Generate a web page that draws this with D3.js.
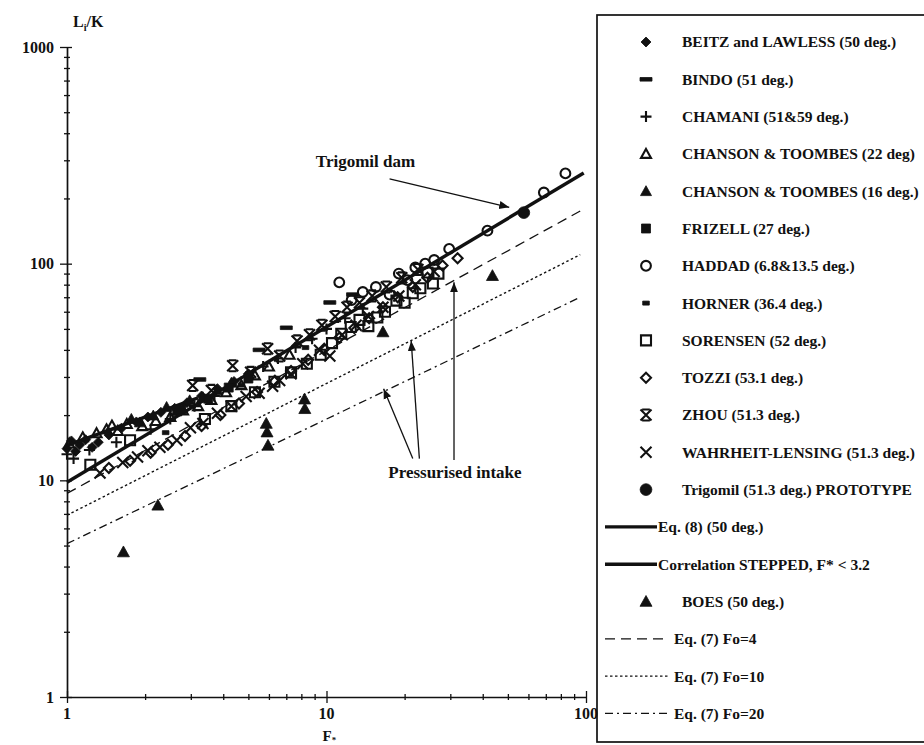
<!DOCTYPE html>
<html>
<head>
<meta charset="utf-8">
<script src="https://cdn.jsdelivr.net/npm/d3@7"></script>
<style>
body { margin: 0; background: #fff; }
text { font-family: "Liberation Serif", "DejaVu Serif", serif; fill: #111; }
</style>
</head>
<body>
<svg id="chart" width="924" height="745"></svg>
<script>
// ---- data: [F*, Li/k] ----
const beitz = [[1.0,14.0],[1.04,15.2],[1.08,13.6],[1.12,14.6],[1.18,15.4],[1.25,14.2],[1.32,15.0],[1.45,16.2],[1.62,17.4],[1.85,18.6],[2.05,19.6],[2.3,20.6],[2.6,21.5],[2.9,22.8],[3.3,24.5],[3.8,26.5],[4.4,28.6],[5.0,31.0]];
const bindo = [[3.25,29.2],[5.5,40.0],[7.0,50.6],[10.3,66.2],[12.6,72.0]];
const chamani = [[1.0,13.2],[1.06,12.6],[1.22,13.8],[1.55,15.0],[2.1,17.2],[2.5,19.2],[3.1,22.0],[3.7,24.5],[4.3,27.5],[4.9,30.0],[5.7,33.5],[6.5,36.5],[7.6,41.0],[8.8,45.0],[10.0,50.0],[11.8,56.0],[13.8,62.0]];
const chanson22 = [[1.02,14.8],[1.15,15.8],[1.3,16.5],[1.42,17.2],[1.49,17.9],[1.57,16.9],[1.7,18.2],[1.95,17.8],[2.2,18.8],[2.5,19.6],[2.8,21.0],[3.2,22.0],[3.6,23.5],[4.1,25.5],[4.7,27.5],[5.3,30.5],[6.0,33.5],[7.2,38.0]];
const chanson16 = [[1.77,19.2],[1.91,18.5],[2.15,19.9],[2.42,21.8],[2.64,20.8],[2.97,23.4],[3.34,24.2],[3.8,26.0],[4.3,28.2]];
const frizell = [[2.75,21.2],[3.5,23.8],[4.2,26.8],[5.0,29.5]];
const haddad = [[11.2,82.0],[12.5,68.0],[13.8,74.0],[15.5,78.0],[17.5,72.0],[19.0,90.0],[20.5,84.0],[22.0,96.0],[24.0,100.0],[26.0,104.0],[29.7,117.0],[41.7,142.0],[68.8,213.0],[83.3,261.0]];
const horner = [[2.4,16.6],[4.7,27.5],[8.3,41.0]];
const sorensen = [[1.23,11.8],[1.75,15.3],[3.4,19.2],[4.3,22.0],[5.3,25.5],[6.3,28.5],[7.3,31.5],[8.4,34.5],[9.5,38.0],[10.5,43.0],[11.4,47.5],[12.4,51.0],[13.4,55.0],[14.5,51.5],[15.7,56.4],[16.8,60.0],[18.6,67.5],[20.0,66.0],[21.5,73.0],[23.0,77.0],[24.5,91.0],[25.7,81.0],[27.0,90.0]];
const tozzi = [[1.45,11.4],[1.75,12.3],[2.1,13.4],[2.45,14.6],[2.85,16.0],[3.3,17.8],[3.9,20.0],[4.6,22.6],[5.4,25.6],[6.3,28.6],[7.3,32.0],[8.5,36.0],[9.8,40.5],[11.2,45.5],[12.8,50.5],[14.6,56.0],[16.5,63.0],[18.8,70.0],[21.5,78.0],[24.5,86.0],[28.0,98.0],[32.0,106.0]];
const zhou = [[3.05,27.4],[3.6,26.0],[4.35,33.8],[5.1,31.5],[5.93,40.5],[6.6,37.5],[7.7,44.0],[8.6,47.0],[9.6,52.0],[10.8,57.0],[12.0,63.0],[13.4,66.0],[15.0,71.0],[17.0,78.0],[19.5,86.0],[22.5,94.0]];
const wahrheit = [[1.34,10.8],[1.64,12.1],[1.87,12.8],[2.05,13.7],[2.28,14.2],[2.65,15.3],[2.99,17.5],[3.34,18.3],[3.8,20.4],[4.3,22.0],[4.9,24.4],[5.5,25.2],[6.2,27.2],[6.6,28.9],[7.3,31.0],[8.1,34.5],[9.4,39.8],[10.3,37.5],[11.5,47.0],[13.0,52.0],[14.5,57.0],[16.5,63.0],[19.0,71.0],[22.0,80.0],[26.0,92.0]];
const trigomil = [[57.6,172.0]];
const boes = [[1.65,4.67],[2.24,7.67],[5.86,18.3],[5.9,16.7],[5.95,14.5],[8.23,23.7],[8.25,21.4],[16.5,48.4],[43.6,88.0]];

// straight lines on log-log, end points
const eq8Line = [[1,9.8],[98,262]];
const correlationLine = [[1,14.5],[3.2,24.0]];
const fo4Line = [[1,8.7],[95,175]];
const fo10Line = [[1,6.9],[95,110]];
const fo20Line = [[1,5.1],[95,70]];

const xTickLabels = [1, 10, 100];
const yTickLabels = [1, 10, 100, 1000];

// annotations
const trigomilText = [9.1, 279];
const trigomilArrow = [[17.5,246],[50.6,182]];
const intakeText = [17.3, 10.2];
const intakeArrows = [
  [[21.5,12.6],[16.6,26.5]],
  [[22.8,12.6],[21.2,44.0]],
  [[31.0,12.4],[31.0,82.0]]
];

// ---- drawing ----
const svg = d3.select('#chart');
const x = d3.scaleLog().domain([1,100]).range([67,586]);
const y = d3.scaleLog().domain([1,1000]).range([697,47]);

function markerPath(type, s){
	const h = s/2;
	switch(type){
		case 'diamond': return `M0,${-h}L${h},0L0,${h}L${-h},0Z`;
		case 'dash': return `M${-h},-1.8H${h}V1.8H${-h}Z`;
		case 'smalldash': return `M${-h*0.6},-2H${h*0.6}V2H${-h*0.6}Z`;
		case 'plus': return `M${-h},0H${h}M0,${-h}V${h}`;
		case 'triangle': return `M0,${-h}L${h},${h*0.8}L${-h},${h*0.8}Z`;
		case 'square': return `M${-h},${-h}H${h}V${h}H${-h}Z`;
		case 'circle': return d3.symbol(d3.symbolCircle, s*s*0.75)();
		case 'x': return `M${-h},${-h}L${h},${h}M${h},${-h}L${-h},${h}`;
		case 'zhou': return `M${-h},${-h}L${h},${h}M${h},${-h}L${-h},${h}M${-h*0.7},${-h}H${h*0.7}M${-h*0.7},${h}H${h*0.7}`;
	}
}

const series = [
	{ label: 'BEITZ and LAWLESS (50 deg.)', data: beitz, type: 'diamond', filled: true, size: 10 },
	{ label: 'BINDO (51 deg.)', data: bindo, type: 'dash', filled: true, size: 12 },
	{ label: 'CHAMANI (51&59 deg.)', data: chamani, type: 'plus', filled: false, size: 11 },
	{ label: 'CHANSON & TOOMBES (22 deg)', data: chanson22, type: 'triangle', filled: false, size: 10 },
	{ label: 'CHANSON & TOOMBES (16 deg.)', data: chanson16, type: 'triangle', filled: true, size: 11 },
	{ label: 'FRIZELL (27 deg.)', data: frizell, type: 'square', filled: true, size: 9 },
	{ label: 'HADDAD (6.8&13.5 deg.)', data: haddad, type: 'circle', filled: false, size: 10 },
	{ label: 'HORNER (36.4 deg.)', data: horner, type: 'smalldash', filled: true, size: 11 },
	{ label: 'SORENSEN (52 deg.)', data: sorensen, type: 'square', filled: false, size: 10 },
	{ label: 'TOZZI (53.1 deg.)', data: tozzi, type: 'diamond', filled: false, size: 10 },
	{ label: 'ZHOU (51.3 deg.)', data: zhou, type: 'zhou', filled: false, size: 11 },
	{ label: 'WAHRHEIT-LENSING (51.3 deg.)', data: wahrheit, type: 'x', filled: false, size: 11 },
	{ label: 'Trigomil (51.3 deg.) PROTOTYPE', data: trigomil, type: 'circle', filled: true, size: 12 }
];
const lines = [
	{ label: 'Eq. (8) (50 deg.)', data: eq8Line, width: 3.4, dash: null },
	{ label: 'Correlation STEPPED, F* < 3.2', data: correlationLine, width: 3.4, dash: null }
];
const boesSeries = { label: 'BOES (50 deg.)', data: boes, type: 'triangle', filled: true, size: 12 };
const eq7Lines = [
	{ label: 'Eq. (7) Fo=4', data: fo4Line, width: 1.3, dash: '10,6' },
	{ label: 'Eq. (7) Fo=10', data: fo10Line, width: 1.4, dash: '2.5,2.5' },
	{ label: 'Eq. (7) Fo=20', data: fo20Line, width: 1.3, dash: '8,4,2,4' }
];

// axes
const minorX = [1,2,3,4,5,6,7,8,9,10,20,30,40,50,60,70,80,90,100];
const xAxis = svg.append('g')
	.attr('transform', `translate(0,${y(1)})`)
	.call(d3.axisBottom(x).tickValues(minorX).tickSize(0).tickFormat(''));
xAxis.select('.domain').attr('stroke', '#111').attr('stroke-width', 1.7);
xAxis.selectAll('.tick line')
	.attr('y1', d => xTickLabels.includes(d) ? -6 : -3)
	.attr('y2', d => xTickLabels.includes(d) ? 6 : 3)
	.attr('stroke', '#111').attr('stroke-width', 1.3);

const minorY = [];
[1,10,100].forEach(b => { for (let k = 1; k < 10; k++) minorY.push(b*k); });
minorY.push(1000);
const yAxis = svg.append('g')
	.attr('transform', `translate(${x(1)},0)`)
	.call(d3.axisLeft(y).tickValues(minorY).tickSize(0).tickFormat(''));
yAxis.select('.domain').attr('stroke', '#111').attr('stroke-width', 1.7);
yAxis.selectAll('.tick line')
	.attr('x1', d => yTickLabels.includes(d) ? -7 : -3)
	.attr('x2', d => yTickLabels.includes(d) ? 5 : 3)
	.attr('stroke', '#111').attr('stroke-width', 1.3);

svg.append('g').selectAll('text')
	.data(xTickLabels).enter().append('text')
	.attr('x', d => x(d)).attr('y', y(1) + 22)
	.attr('text-anchor', 'middle')
	.style('font-size', '16px').style('font-weight', 'bold')
	.text(d => d);
svg.append('g').selectAll('text')
	.data(yTickLabels).enter().append('text')
	.attr('x', x(1) - 13).attr('y', d => y(d))
	.attr('dy', '0.35em')
	.attr('text-anchor', 'end')
	.style('font-size', '16px').style('font-weight', 'bold')
	.text(d => d);

// axis titles
const yTitle = svg.append('text').attr('x', 73).attr('y', 27)
	.style('font-size', '16px').style('font-weight', 'bold');
yTitle.append('tspan').text('L');
yTitle.append('tspan').attr('dy', 4).style('font-size', '10px').text('i');
yTitle.append('tspan').attr('dy', -4).text('/K');
const xTitle = svg.append('text').attr('x', x(10) - 4).attr('y', 741)
	.style('font-size', '15px').style('font-weight', 'bold');
xTitle.append('tspan').text('F');
xTitle.append('tspan').attr('dy', 2).style('font-size', '9px').text('*');

// lines
const lineGen = d3.line().x(d => x(d[0])).y(d => y(d[1]));
const plot = svg.append('g');
eq7Lines.concat(lines).forEach(l => {
	plot.append('path')
		.attr('d', lineGen(l.data))
		.attr('fill', 'none')
		.attr('stroke', '#111')
		.attr('stroke-width', l.width)
		.attr('stroke-dasharray', l.dash);
});

// markers
function drawMarkers(g, s){
	g.selectAll(null)
		.data(s.data).enter().append('path')
		.attr('transform', d => `translate(${x(d[0])},${y(d[1])})`)
		.attr('d', markerPath(s.type, s.size))
		.attr('fill', s.filled ? '#111' : 'none')
		.attr('stroke', '#111')
		.attr('stroke-width', s.filled ? 0.8 : 2.1);
}
series.concat([boesSeries]).forEach(s => drawMarkers(plot.append('g'), s));

// annotations
const defs = svg.append('defs');
defs.append('marker')
	.attr('id', 'head').attr('viewBox', '0 0 10 10')
	.attr('refX', 10).attr('refY', 5)
	.attr('markerWidth', 10).attr('markerHeight', 10)
	.attr('markerUnits', 'userSpaceOnUse')
	.attr('orient', 'auto')
	.append('path').attr('d', 'M0,1L10,5L0,9Z').attr('fill', '#111');

svg.append('text')
	.attr('x', x(trigomilText[0])).attr('y', y(trigomilText[1]))
	.style('font-size', '17px').style('font-weight', 'bold')
	.text('Trigomil dam');
svg.append('path')
	.attr('d', lineGen(trigomilArrow))
	.attr('stroke', '#111').attr('stroke-width', 1.3)
	.attr('marker-end', 'url(#head)');

svg.append('text')
	.attr('x', x(intakeText[0])).attr('y', y(intakeText[1]))
	.style('font-size', '17px').style('font-weight', 'bold')
	.text('Pressurised intake');
intakeArrows.forEach(a => {
	svg.append('path')
		.attr('d', lineGen(a))
		.attr('stroke', '#111').attr('stroke-width', 1.3)
		.attr('marker-end', 'url(#head)');
});

// legend
const legend = svg.append('g');
legend.append('rect')
	.attr('x', 597).attr('y', 15).attr('width', 340).attr('height', 727)
	.attr('fill', 'none').attr('stroke', '#111').attr('stroke-width', 1.7);

const legendItems = series.map(s => ({ kind: 'marker', s }))
	.concat(lines.map(l => ({ kind: 'line', s: l })))
	.concat([{ kind: 'marker', s: boesSeries }])
	.concat(eq7Lines.map(l => ({ kind: 'dashline', s: l })));

legendItems.forEach((it, i) => {
	const ly = 42 + i * 37.3;
	let tx = 682;
	if (it.kind === 'marker') {
		legend.append('path')
			.attr('transform', `translate(646,${ly})`)
			.attr('d', markerPath(it.s.type, it.s.size))
			.attr('fill', it.s.filled ? '#111' : 'none')
			.attr('stroke', '#111')
			.attr('stroke-width', it.s.filled ? 0.8 : 2.1);
	} else {
		const x2 = it.kind === 'line' ? 657 : 668;
		legend.append('line')
			.attr('x1', 605).attr('x2', x2).attr('y1', ly).attr('y2', ly)
			.attr('stroke', '#111').attr('stroke-width', it.s.width)
			.attr('stroke-dasharray', it.s.dash);
		tx = it.kind === 'line' ? 658 : 674;
	}
	legend.append('text')
		.attr('x', tx).attr('y', ly).attr('dy', '0.35em')
		.style('font-size', '15.5px').style('font-weight', 'bold')
		.text(it.s.label);
});
</script>
</body>
</html>
